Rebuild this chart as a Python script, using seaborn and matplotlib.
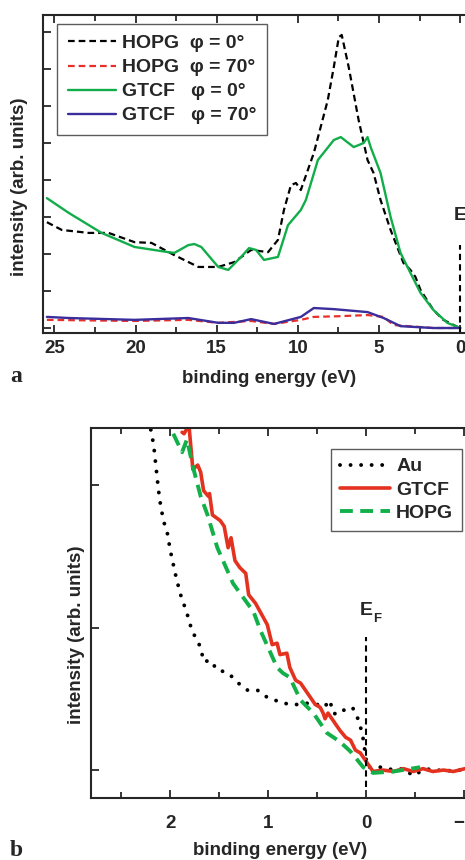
import numpy as np
import pandas as pd
import matplotlib
matplotlib.use('Agg')
import matplotlib.pyplot as plt
from matplotlib.ticker import MultipleLocator
from matplotlib.transforms import offset_copy
import seaborn as sns

# ---- panel a: valence band spectra (binding energy in eV, intensity arb.) ----
hopg0_e = [25.46, 24.54, 22.88, 21.66, 20.06, 19.02, 17.61, 16.13, 14.91, 13.93, 12.88, 11.84,
           11.23, 10.86, 10.43, 10.12, 9.82, 9.02, 8.16, 7.79, 7.48, 7.30, 6.87, 6.26, 5.71,
           5.34, 4.91, 4.29, 3.50, 3.07, 2.76, 2.45, 1.66, 1.04, 0.18]
hopg0_i = [2.86, 2.65, 2.57, 2.57, 2.32, 2.30, 1.97, 1.65, 1.65, 1.78, 2.11, 2.05,
           2.38, 3.19, 3.86, 3.92, 3.73, 4.73, 6.16, 7.05, 7.86, 7.92, 7.05, 5.62, 4.54,
           4.19, 3.46, 2.65, 1.76, 1.57, 1.38, 1.03, 0.49, 0.22, 0.03]

gtcf0_e = [25.46, 24.11, 22.09, 20.06, 17.98, 17.61, 16.75, 16.38, 15.95, 14.91, 14.29, 13.50,
           13.01, 12.58, 12.09, 11.23, 10.61, 9.82, 9.51, 8.77, 7.79, 7.36, 6.56, 5.95, 5.71,
           5.52, 4.91, 4.29, 3.68, 3.07, 2.45, 1.66, 0.80, 0.0]
gtcf0_i = [3.51, 3.11, 2.57, 2.19, 2.05, 2.03, 2.24, 2.27, 2.19, 1.65, 1.57, 1.92,
           2.16, 2.11, 1.84, 1.92, 2.78, 3.19, 3.46, 4.54, 5.08, 5.16, 4.89, 5.00, 5.16,
           4.89, 4.19, 3.00, 2.03, 1.49, 0.95, 0.49, 0.14, 0.0]

hopg70_e = [25.46, 20.06, 16.75, 14.91, 12.88, 11.47, 9.82, 9.02, 7.36, 5.71, 4.72, 4.11, 1.66, 0.0]
hopg70_i = [0.22, 0.19, 0.22, 0.14, 0.19, 0.11, 0.22, 0.30, 0.32, 0.35, 0.30, 0.08, 0.0, 0.0]

gtcf70_e = [25.46, 24.11, 20.06, 16.75, 14.91, 13.93, 12.88, 11.47, 9.82, 9.02, 7.79, 5.71,
            4.72, 3.68, 1.66, 0.0]
gtcf70_i = [0.30, 0.27, 0.22, 0.27, 0.14, 0.14, 0.24, 0.11, 0.30, 0.54, 0.51, 0.43,
            0.27, 0.05, 0.0, 0.0]

# ---- panel b: region near the Fermi edge ----
au_e = [2.22, 2.20, 2.17, 2.15, 2.12, 2.10, 2.07, 2.03, 2.00, 1.95, 1.90, 1.83, 1.78, 1.69,
        1.66, 1.59, 1.52, 1.44, 1.36, 1.29, 1.21, 1.11, 1.01, 0.93, 0.85, 0.76, 0.67, 0.59,
        0.50, 0.43, 0.37, 0.34, 0.29, 0.23, 0.14, 0.09, 0.04, 0.01, -0.01, -0.09, -0.17,
        -0.28, -0.38, -0.48, -0.58, -0.68, -0.79, -0.89, -1.01]
au_i = [2.46, 2.39, 2.28, 2.15, 1.96, 1.86, 1.75, 1.66, 1.54, 1.38, 1.24, 1.10, 0.98, 0.86,
        0.76, 0.77, 0.70, 0.69, 0.65, 0.60, 0.56, 0.56, 0.51, 0.49, 0.47, 0.46, 0.46, 0.47,
        0.46, 0.44, 0.49, 0.40, 0.39, 0.42, 0.44, 0.37, 0.26, 0.12, 0.02, 0.02, 0.02,
        0.0, 0.01, -0.04, 0.0, 0.01, -0.01, 0.0, 0.0]

gtcf_e = [1.88, 1.86, 1.81, 1.77, 1.72, 1.69, 1.66, 1.61, 1.60, 1.57, 1.49, 1.45, 1.41, 1.38,
          1.34, 1.29, 1.23, 1.20, 1.13, 1.05, 1.01, 0.96, 0.91, 0.88, 0.81, 0.78, 0.72, 0.67,
          0.62, 0.57, 0.52, 0.47, 0.44, 0.42, 0.39, 0.34, 0.27, 0.21, 0.16, 0.11, 0.06, 0.0,
          -0.07, -0.17, -0.28, -0.38, -0.48, -0.58, -0.68, -0.79, -0.89, -1.01]
gtcf_i = [2.37, 2.36, 2.42, 2.11, 2.14, 2.09, 1.96, 1.92, 1.94, 1.79, 1.75, 1.71, 1.56, 1.63,
          1.47, 1.42, 1.38, 1.23, 1.17, 1.07, 1.02, 0.88, 0.89, 0.81, 0.82, 0.72, 0.63, 0.61,
          0.56, 0.51, 0.46, 0.44, 0.40, 0.36, 0.40, 0.35, 0.28, 0.23, 0.21, 0.14, 0.12, 0.06,
          -0.01, 0.0, -0.01, 0.01, -0.01, 0.01, -0.01, 0.0, -0.01, 0.01]

hopg_e = [1.97, 1.88, 1.83, 1.77, 1.69, 1.62, 1.52, 1.36, 1.15, 1.08, 0.91, 0.85, 0.78, 0.67,
          0.54, 0.40, 0.27, 0.16, 0.03, -0.07, -0.28, -0.55]
hopg_i = [2.36, 2.23, 2.32, 2.13, 1.92, 1.79, 1.56, 1.31, 1.11, 0.98, 0.72, 0.68, 0.65, 0.49,
          0.40, 0.26, 0.20, 0.13, 0.02, -0.02, -0.01, 0.02]

sns.set_style('ticks')
plt.rcParams['font.family'] = ['Liberation Sans', 'DejaVu Sans']
plt.rcParams['font.weight'] = 'bold'
plt.rcParams['axes.labelweight'] = 'bold'

W, H = 465, 860
fig = plt.figure(figsize=(W / 100, H / 100), dpi=100)

def px_axes(l, t, r, b):
    return fig.add_axes([l / W, 1 - b / H, (r - l) / W, (b - t) / H])

def style_axes(ax):
    for s in ax.spines.values():
        s.set_linewidth(1.5)
        s.set_visible(True)
    ax.tick_params(which='both', direction='in', top=True, right=False, width=1.3,
                   labelsize=13.5)
    ax.tick_params(which='major', length=6)
    ax.tick_params(which='minor', length=4)
    ax.tick_params(axis='y', labelleft=False)
    for t in ax.get_xticklabels():
        t.set_fontweight('bold')

def fermi_label(ax, x, y):
    # "E" with a small bold subscript "F"
    ax.text(x, y, 'E', fontsize=14, fontweight='bold', ha='left', va='center')
    tr = offset_copy(ax.transData, fig=fig, x=10, y=-6, units='points')
    ax.text(x, y, 'F', fontsize=9.5, fontweight='bold', ha='left', va='center', transform=tr)

# ---------------- panel a ----------------
axa = px_axes(43, 15, 470, 333)
sns.lineplot(x=hopg0_e, y=hopg0_i, ax=axa, color='black', lw=1.6, sort=False,
             estimator=None, linestyle=(0, (3.0, 1.8)), label='HOPG  φ = 0°')
sns.lineplot(x=hopg70_e, y=hopg70_i, ax=axa, color='#e8302a', lw=1.6, sort=False,
             estimator=None, linestyle=(0, (3.0, 1.8)), label='HOPG  φ = 70°')
sns.lineplot(x=gtcf0_e, y=gtcf0_i, ax=axa, color='#12ad4a', lw=1.7, sort=False,
             estimator=None, label='GTCF   φ = 0°')
sns.lineplot(x=gtcf70_e, y=gtcf70_i, ax=axa, color='#3a2d9c', lw=1.7, sort=False,
             estimator=None, label='GTCF   φ = 70°')
axa.axvline(0, ymin=0, ymax=(333 - 245) / 318, color='black', lw=1.5, ls=(0, (3, 2)))
fermi_label(axa, 0.43, 3.03)
axa.set_xlim(25.7, -0.6)
axa.set_ylim(-0.135, 8.46)
axa.xaxis.set_major_locator(MultipleLocator(5))
axa.xaxis.set_minor_locator(MultipleLocator(2.5))
axa.yaxis.set_major_locator(MultipleLocator(1))
style_axes(axa)
axa.tick_params(axis='x', pad=5)
axa.set_xlabel('binding energy (eV)', fontsize=13.5, fontweight='bold')
axa.set_ylabel('intensity (arb. units)', fontsize=13.5, fontweight='bold')
axa.xaxis.set_label_coords(0.53, -0.115)
axa.yaxis.set_label_coords(-0.035, 0.46)
leg = axa.legend(loc='upper left', bbox_to_anchor=(57 / W, 1 - 24 / H),
                 bbox_transform=fig.transFigure, borderaxespad=0, fancybox=False,
                 frameon=True, edgecolor='#333333', handlelength=2.5,
                 prop={'weight': 'bold', 'size': 14}, labelspacing=0.33, borderpad=0.55,
                 handletextpad=0.3)
leg.get_frame().set_linewidth(1.0)
fig.text(10 / W, 1 - 377 / H, 'a', family='Liberation Serif', fontweight='bold',
         fontsize=17, va='center')

# ---------------- panel b ----------------
axb = px_axes(91, 428, 470, 798)
sns.lineplot(x=au_e, y=au_i, ax=axb, color='black', lw=2.8, sort=False, estimator=None,
             linestyle=(0, (0.01, 2.7)), dash_capstyle='round', label='Au')
sns.lineplot(x=gtcf_e, y=gtcf_i, ax=axb, color='#e3321f', lw=2.6, sort=False,
             estimator=None, label='GTCF')
sns.lineplot(x=hopg_e, y=hopg_i, ax=axb, color='#13b04a', lw=2.8, sort=False,
             estimator=None, linestyle=(0, (3.3, 1.9)), label='HOPG')
axb.axvline(0, ymin=(798 - 787) / 370, ymax=(798 - 637) / 370, color='black', lw=1.5,
            ls=(0, (3, 2)))
fermi_label(axb, 0.07, 1.12)
axb.set_xlim(2.81, -1.06)
axb.set_ylim(-0.196, 2.40)
axb.xaxis.set_major_locator(MultipleLocator(1))
axb.xaxis.set_minor_locator(MultipleLocator(0.5))
axb.yaxis.set_major_locator(MultipleLocator(1))
style_axes(axb)
axb.tick_params(axis='x', pad=12)
axb.set_xlabel('binding energy (eV)', fontsize=13.5, fontweight='bold')
axb.set_ylabel('intensity (arb. units)', fontsize=13.5, fontweight='bold')
axb.xaxis.set_label_coords(0.50, -0.118)
axb.yaxis.set_label_coords(-0.016, 0.44)
legb = axb.legend(loc='upper left', bbox_to_anchor=(331 / W, 1 - 449 / H),
                  bbox_transform=fig.transFigure, borderaxespad=0, fancybox=False,
                  frameon=True, edgecolor='#333333', handlelength=2.6,
                  prop={'weight': 'bold', 'size': 14}, labelspacing=0.3, borderpad=0.45,
                  handletextpad=0.3)
legb.get_frame().set_linewidth(1.0)
fig.text(10 / W, 1 - 850 / H, 'b', family='Liberation Serif', fontweight='bold',
         fontsize=17, va='center')

fig.savefig('out.png', dpi=100)
